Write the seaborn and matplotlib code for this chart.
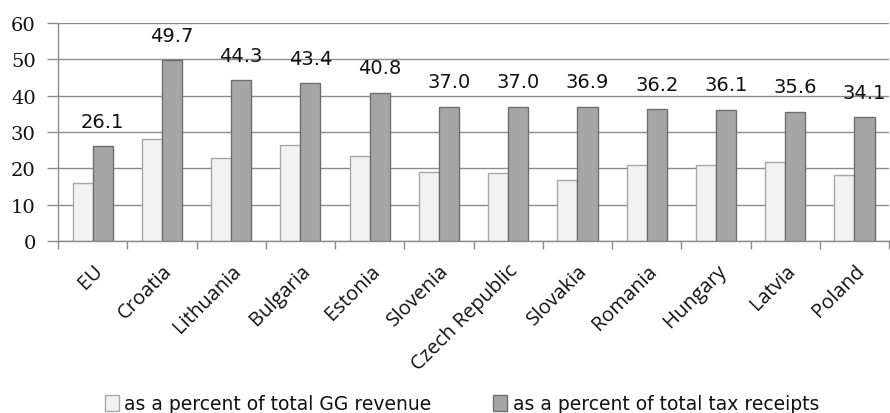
import numpy as np
import pandas as pd
import matplotlib
matplotlib.use("Agg")
import matplotlib.pyplot as plt
import seaborn as sns
from matplotlib.patches import Patch

countries = ["EU", "Croatia", "Lithuania", "Bulgaria", "Estonia", "Slovenia",
             "Czech Republic", "Slovakia", "Romania", "Hungary", "Latvia", "Poland"]
gg_revenue = [15.9, 28.2, 22.9, 26.4, 23.3, 19.0, 18.7, 16.9, 20.8, 20.8, 21.8, 18.3]
tax_receipts = [26.1, 49.7, 44.3, 43.4, 40.8, 37.0, 37.0, 36.9, 36.2, 36.1, 35.6, 34.1]
series_names = ["as a percent of total GG revenue", "as a percent of total tax receipts"]
y_ticks = [0, 10, 20, 30, 40, 50, 60]

sns.set_theme(style="white")
plt.rcParams["font.family"] = ["Open Sans", "DejaVu Sans"]

df = pd.DataFrame({
    "country": countries * 2,
    "value": gg_revenue + tax_receipts,
    "series": [series_names[0]] * len(countries) + [series_names[1]] * len(countries),
})

fig = plt.figure(figsize=(8.9, 4.14), dpi=100)
ax = fig.add_axes([58 / 890, 1 - 242 / 414, 1 - 58 / 890 - 0.001, (242 - 24) / 414])

light, dark = "#f2f2f2", "#a6a6a6"
sns.barplot(data=df, x="country", y="value", hue="series", order=countries,
            hue_order=series_names, palette=[light, dark], width=0.58,
            gap=0, ax=ax, legend=False, saturation=1)

edges = {0: "#a8a8a8", 1: "#6e6e6e"}
for i, cont in enumerate(ax.containers):
    for p in cont:
        p.set_edgecolor(edges[i])
        p.set_linewidth(1.0)

# data labels above tax-receipt bars
for p, v in zip(ax.containers[1], tax_receipts):
    ax.annotate(f"{v:.1f}", (p.get_x() + p.get_width() / 2, p.get_height()),
                xytext=(0, 18), textcoords="offset points", ha="center", va="center",
                fontsize=14, color="#111111", family=["DejaVu Sans"],
                annotation_clip=False)

ax.set_ylim(0, 60)
ax.set_xlim(-0.5, len(countries) - 0.5)
ax.set_yticks(y_ticks)
ax.yaxis.grid(True, color="#8c8c8c", linewidth=1.0)
ax.set_axisbelow(True)
for s in ["top", "right"]:
    ax.spines[s].set_visible(False)
ax.spines["left"].set_color("#8c8c8c")
ax.spines["bottom"].set_color("#8c8c8c")
ax.spines["left"].set_linewidth(1.0)
ax.spines["bottom"].set_linewidth(1.0)

ax.tick_params(axis="y", which="major", left=True, length=8, width=1, color="#8c8c8c",
               labelsize=14, pad=8)
for lab in ax.get_yticklabels():
    lab.set_family(["DejaVu Serif"])
    lab.set_color("#111111")
ax.set_xticks(np.arange(-0.5, len(countries), 1.0), minor=True)
ax.tick_params(axis="x", which="minor", bottom=True, length=6, width=1, color="#8c8c8c")
ax.tick_params(axis="x", which="major", bottom=False, length=0, labelsize=14.5, pad=14)
ax.set_xticks(range(len(countries)))
ax.set_xticklabels(countries, rotation=45, ha="right", rotation_mode="anchor",
                   color="#111111")
ax.set_xlabel("")
ax.set_ylabel("")

handles = [Patch(facecolor=light, edgecolor=edges[0]), Patch(facecolor=dark, edgecolor=edges[1])]
fig.legend(handles, series_names, loc="center", bbox_to_anchor=(462 / 890, 1 - 405 / 414),
           ncol=2, frameon=False, handlelength=0.75, handleheight=0.9, handletextpad=0.3,
           columnspacing=3.3, borderpad=0, labelcolor="#111111",
           prop={"family": ["DejaVu Sans"], "size": 13.5})

fig.savefig("out.png", dpi=100)
